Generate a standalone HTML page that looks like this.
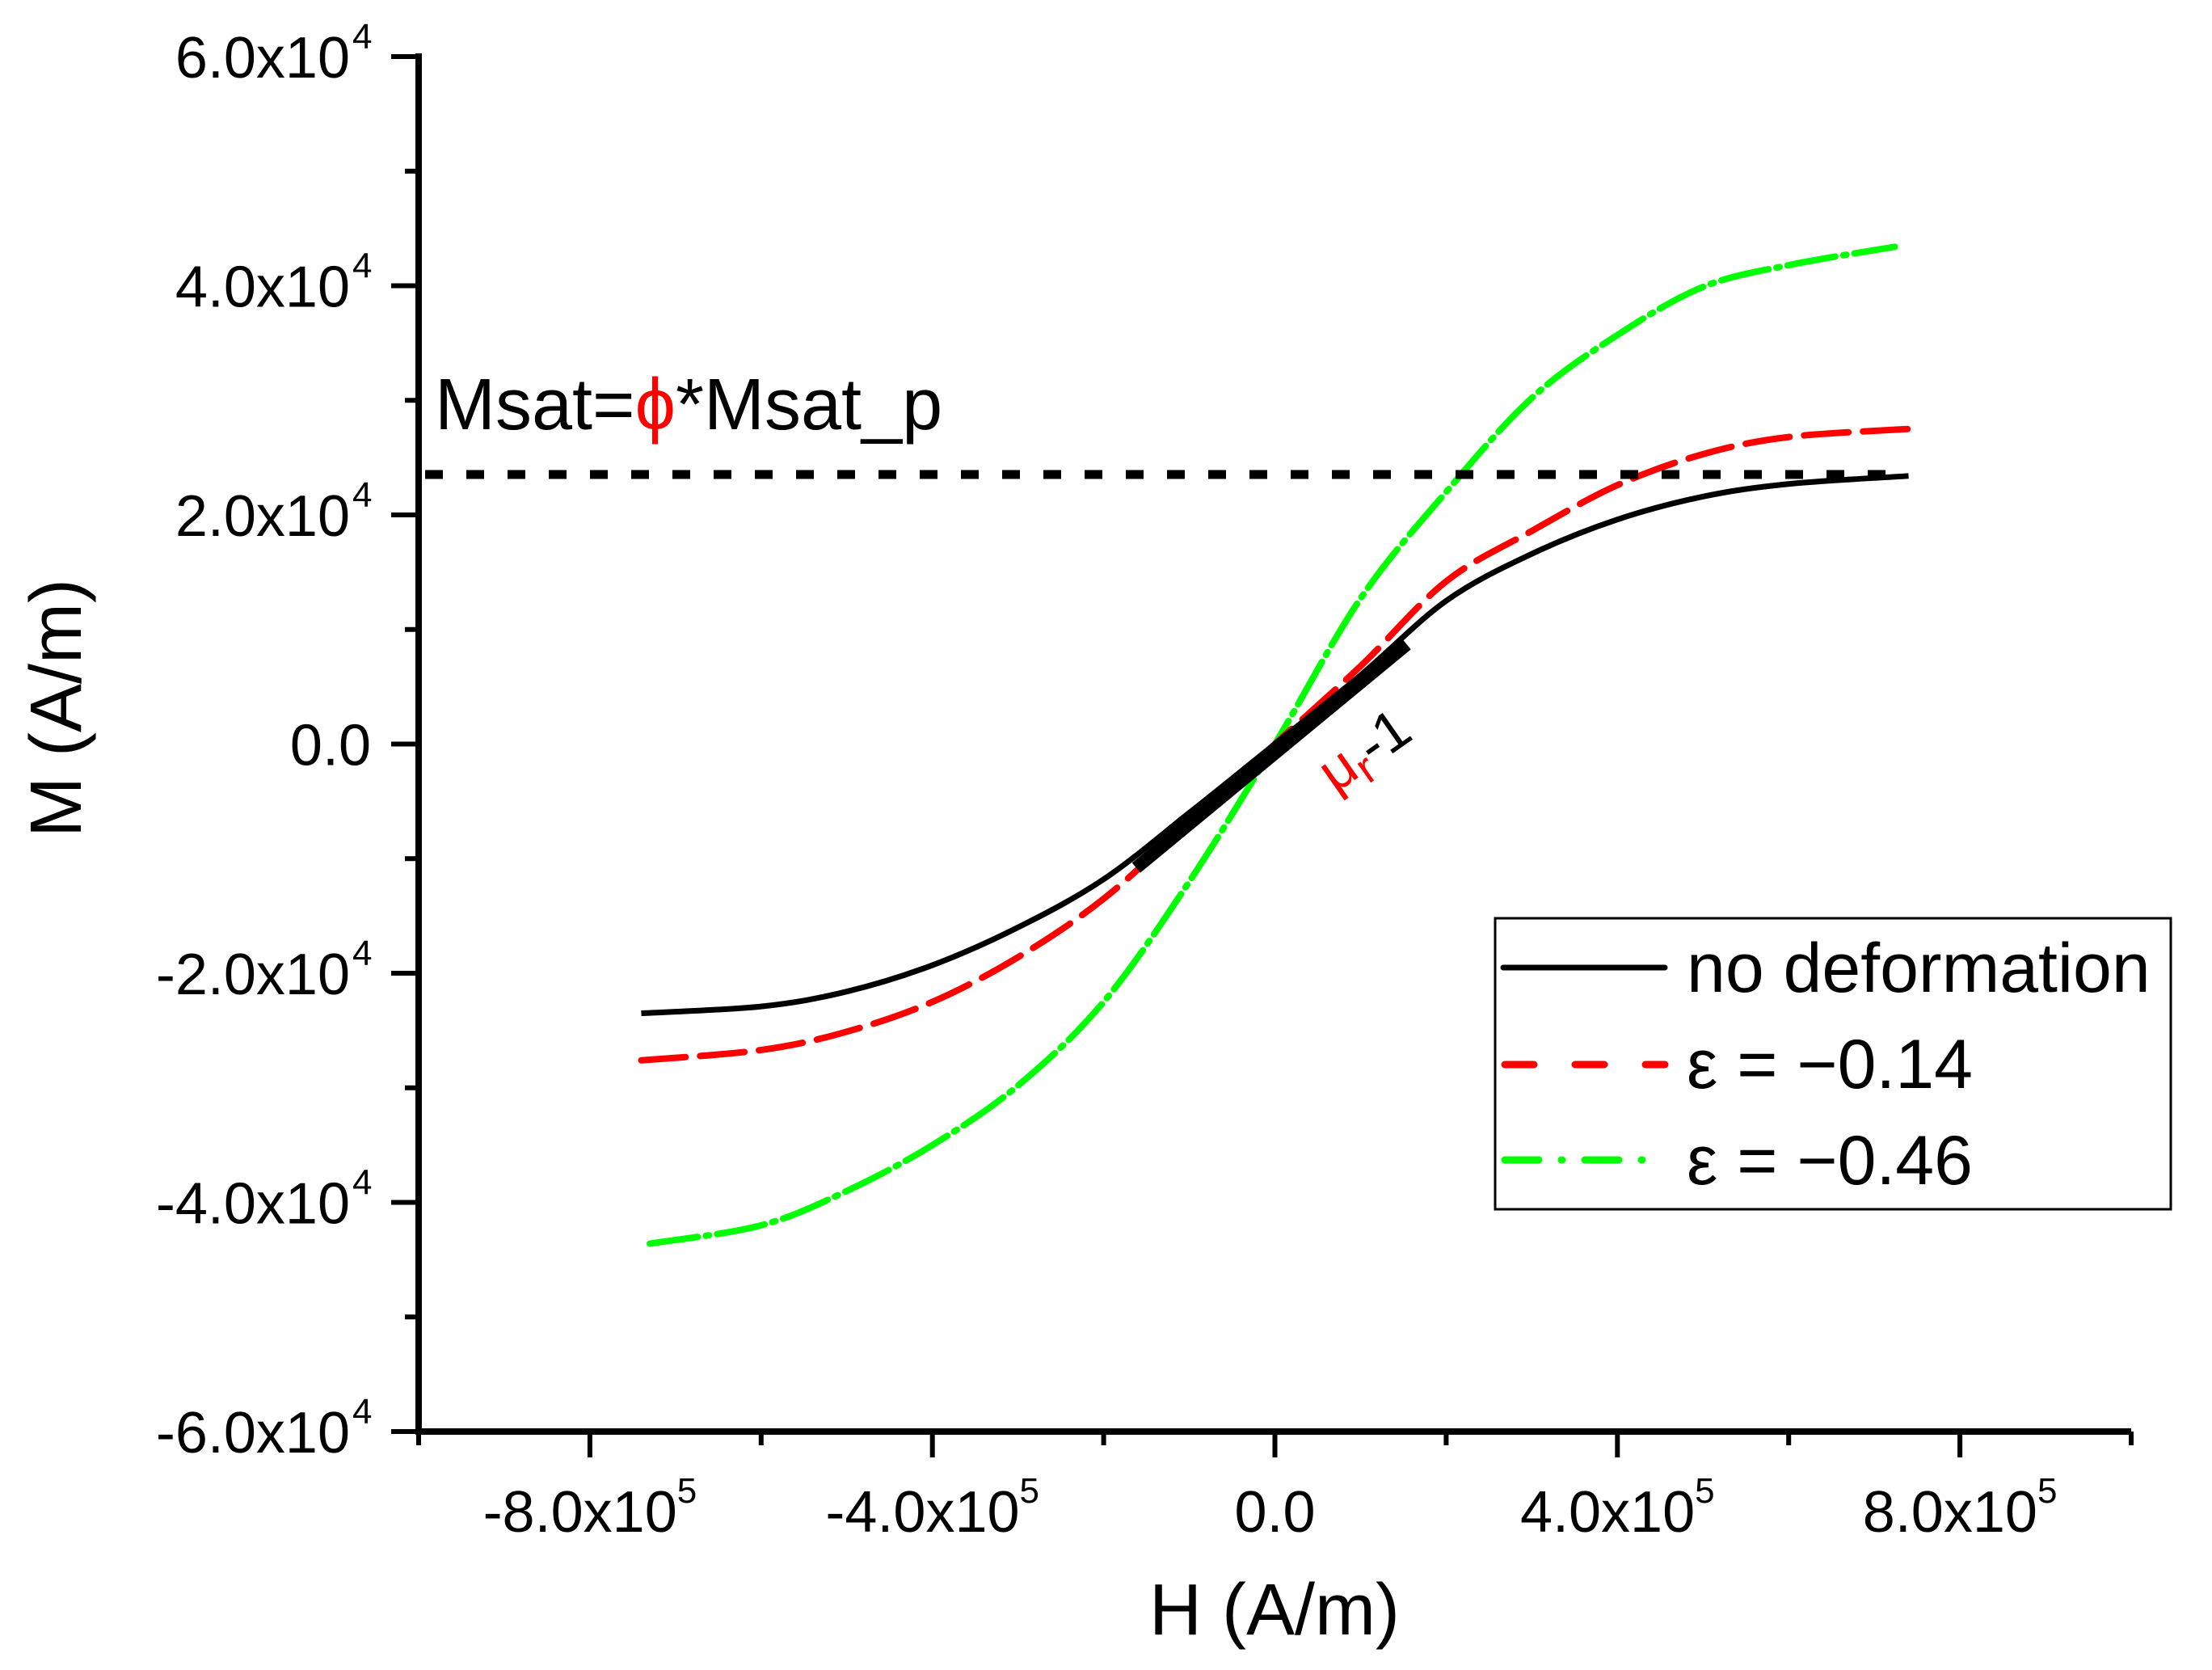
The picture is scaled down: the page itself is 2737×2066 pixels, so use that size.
<!DOCTYPE html>
<html><head><meta charset="utf-8"><style>
html,body{margin:0;padding:0;background:#fff;}
svg{display:block;font-family:"Liberation Sans",sans-serif;}
</style></head><body>
<svg id="chart" width="2737" height="2066" viewBox="0 0 2737 2066" xmlns="http://www.w3.org/2000/svg">
<g id="axes"></g>
<g id="series"></g>
<line x1="526" y1="587" x2="2360" y2="587" stroke="#000" stroke-width="11" stroke-dasharray="22 29"/>
<text x="538" y="531" font-size="90" fill="#000">Msat=<tspan fill="#ff0000">ϕ</tspan>*Msat_p</text>
<g id="tangent"></g>
<text transform="translate(1652,982) rotate(-35)" font-size="70" fill="#000"><tspan fill="#ff0000">μ</tspan><tspan fill="#ff0000" font-size="54" dy="14">r</tspan><tspan dy="-14">-1</tspan></text>
<text x="1577" y="2022" font-size="90" text-anchor="middle">H (A/m)</text>
<text transform="translate(100,876) rotate(-90)" font-size="90" text-anchor="middle">M (A/m)</text>
<g>
<rect x="1850" y="1136" width="836" height="360" fill="#fff" stroke="#000" stroke-width="3"/>
<line x1="1860" y1="1197" x2="2060" y2="1197" stroke="#000" stroke-width="7" stroke-linecap="round"/>
<text x="2087" y="1227" font-size="86">no deformation</text>
<line x1="1862" y1="1317" x2="2060" y2="1317" stroke="#ff0000" stroke-width="9" stroke-linecap="round" stroke-dasharray="36 51"/>
<text x="2087" y="1346" font-size="86">ε = −0.14</text>
<line x1="1862" y1="1435" x2="2052" y2="1435" stroke="#00ff00" stroke-width="9" stroke-linecap="round" stroke-dasharray="42 28 1 28"/>
<text x="2087" y="1465" font-size="86">ε = −0.46</text>
</g>
</svg>
<script>
const H = [-7.4,-6,-5,-4,-3,-2,-1,0,1,2,3,4,5,6,7.4];
const Hgreen = [-7.3,-6,-5,-4,-3,-2,-1,0,1,2,3,4,5,6,7.24];
const Mblack = [-2.35,-2.29,-2.16,-1.93,-1.6,-1.18,-0.6,0,0.6,1.25,1.66,1.96,2.16,2.27,2.34];
const Mred = [-2.76,-2.67,-2.51,-2.25,-1.86,-1.35,-0.68,0,0.68,1.42,1.86,2.26,2.53,2.68,2.75];
const Mgreen = [-4.36,-4.2,-3.9,-3.5,-2.98,-2.25,-1.2,0,1.27,2.2,3.02,3.57,3.99,4.18,4.34];
const xTicks = [-8,-4,0,4,8];
const xTickLabels = ["-8.0x10","-4.0x10","0.0","4.0x10","8.0x10"];
const yTicks = [6,4,2,0,-2,-4,-6];
const yTickLabels = ["6.0x10","4.0x10","2.0x10","0.0","-2.0x10","-4.0x10","-6.0x10"];
const tangentH = [-1.62,1.54];
const tangentM = [-1.08,0.87];

const NS="http://www.w3.org/2000/svg";
const X0=518,X1=2637,Y0=1771,Y1=70;
function sx(h){return X0+(h+10)/20*(X1-X0);}
function sy(m){return Y0-(m+6)/12*(Y0-Y1);}
function mk(tag,attrs,parent){const e=document.createElementNS(NS,tag);for(const k in attrs)e.setAttribute(k,attrs[k]);parent.appendChild(e);return e;}
const axes=document.getElementById('axes');
let a=mk('line',{x1:X0,y1:Y0,x2:X1,y2:Y0,stroke:'#000','stroke-width':8},axes);


a=mk('line',{x1:X0,y1:Y1-4,x2:X0,y2:Y0+4,stroke:'#000','stroke-width':8},axes);


for(let v=-10;v<=10;v+=2){
  const major=(v%4===0)&&Math.abs(v)<10;
  const t=mk('line',{x1:sx(v),y1:Y0,x2:sx(v),y2:Y0+(major?32:17),stroke:'#000','stroke-width':6},axes);
  
  
}
xTicks.forEach((v,i)=>{
  const t=mk('text',{x:sx(v),y:1895,'font-size':72,'text-anchor':'middle'},axes);
  t.textContent=xTickLabels[i];
  if(v!==0){const s=mk('tspan',{'font-size':44,dy:-36},t);s.textContent='5';}
  
  
});
for(let v=-6;v<=6;v+=1){
  const major=v%2===0;
  const t=mk('line',{x1:X0-(major?34:17),y1:sy(v),x2:X0,y2:sy(v),stroke:'#000','stroke-width':6},axes);
  
  
}
yTicks.forEach((v,i)=>{
  const t=mk('text',{x:v===0?459:433,y:sy(v)+26,'font-size':72,'text-anchor':'end'},axes);
  t.textContent=yTickLabels[i];
  
  
  if(v!==0){const s=mk('text',{x:436,y:sy(v)-10,'font-size':44},axes);s.textContent='4';
    
    }
});
function pathFor(hs,ms){
  const p=hs.map((h,i)=>[sx(h),sy(ms[i])]);
  let d='M'+p[0][0]+','+p[0][1];
  for(let i=0;i<p.length-1;i++){
    const p0=p[Math.max(0,i-1)],p1=p[i],p2=p[i+1],p3=p[Math.min(p.length-1,i+2)];
    const c1=[p1[0]+(p2[0]-p0[0])/6,p1[1]+(p2[1]-p0[1])/6];
    const c2=[p2[0]-(p3[0]-p1[0])/6,p2[1]-(p3[1]-p1[1])/6];
    d+=' C'+c1.join(',')+' '+c2.join(',')+' '+p2.join(',');
  }
  return d;
}
const ser=document.getElementById('series');
let s=mk('path',{d:pathFor(Hgreen,Mgreen),fill:'none',stroke:'#00ff00','stroke-width':8,'stroke-dasharray':'60 10 4 10','stroke-linecap':'round'},ser);


s=mk('path',{d:pathFor(H,Mred),fill:'none',stroke:'#ff0000','stroke-width':8,'stroke-dasharray':'55 18','stroke-linecap':'round'},ser);


s=mk('path',{d:pathFor(H,Mblack),fill:'none',stroke:'#000','stroke-width':7},ser);


const tg=document.getElementById('tangent');
s=mk('line',{x1:sx(tangentH[0]),y1:sy(tangentM[0]),x2:sx(tangentH[1]),y2:sy(tangentM[1]),stroke:'#000','stroke-width':16},tg);


</script>
</body></html>
